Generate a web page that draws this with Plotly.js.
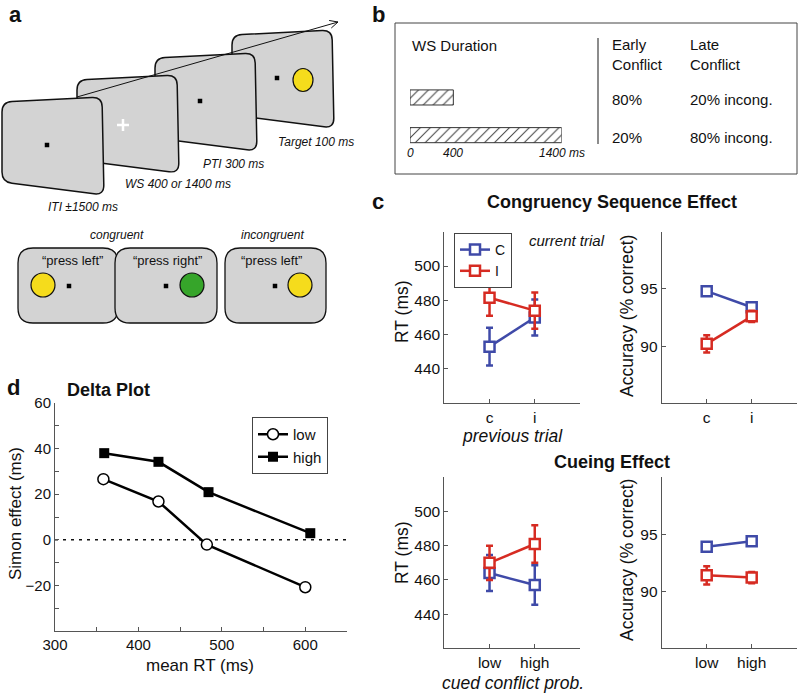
<!DOCTYPE html>
<html><head><meta charset="utf-8">
<script src="https://cdn.plot.ly/plotly-3.0.1.min.js"></script>
<style>html,body{margin:0;padding:0;background:#fff}#chart{width:798px;height:693px}</style>
</head><body><div id="chart"></div>
<script>
// ---------------- DATA ----------------
// Panel d: Delta plot
const deltaRTLow = [358, 424, 482, 600];
const deltaSimonLow = [26.6, 16.8, -2.1, -20.8];
const deltaRTHigh = [359, 424, 484, 606];
const deltaSimonHigh = [38.0, 34.2, 20.9, 2.9];
const deltaXTicks = [300, 400, 500, 600];
const deltaYTicks = [-20, 0, 20, 40, 60];

// Panel c: Congruency sequence effect (previous trial)
const cseCategories = ['c', 'i'];
const cseRT_C = [453, 470];
const cseRT_C_err = [11, 10.5];
const cseRT_I = [481.5, 474];
const cseRT_I_err = [10.5, 10.5];
const cseAcc_C = [94.8, 93.4];
const cseAcc_C_err = [0.3, 0.3];
const cseAcc_I = [90.2, 92.6];
const cseAcc_I_err = [0.75, 0.5];

// Panel c: Cueing effect (cued conflict probability)
const cueCategories = ['low', 'high'];
const cueRT_C = [464, 457];
const cueRT_C_err = [10.5, 11.5];
const cueRT_I = [470, 481];
const cueRT_I_err = [10, 11];
const cueAcc_C = [93.9, 94.4];
const cueAcc_C_err = [0.3, 0.4];
const cueAcc_I = [91.4, 91.2];
const cueAcc_I_err = [0.8, 0.5];
const rtTicks = [440, 460, 480, 500];
const accTicks = [90, 95];

// Panel b: WS durations and conflict probabilities
const wsDurations = [400, 1400];
const wsRows = [1, 2];
const wsTickVals = [0, 400, 1400];
const wsTickLabels = ['0', '400', '1400 ms'];
const earlyConflict = ['80%', '20%'];
const lateConflict = ['20% incong.', '80% incong.'];

// ---------------- HELPERS ----------------
const W = 798, H = 693;
const FONT = 'Liberation Sans, Arial, Helvetica, sans-serif';
const BLUE = '#3f4aa8', RED = '#d62b22', AX = '#555';
const px = x => x / W, py = y => 1 - y / H;
const shapes = [], annotations = [];
function ann(text, x, y, size, extra) {
  const o = {text, x: px(x), y: py(y), xref: 'paper', yref: 'paper', showarrow: false,
    xanchor: 'center', yanchor: 'middle', font: {family: FONT, size: size || 12, color: '#111'}};
  if (extra) { if (extra.font) { Object.assign(o.font, extra.font); delete extra.font; } Object.assign(o, extra); }
  annotations.push(o);
}
function pt(p) { return px(p[0]).toFixed(5) + ',' + py(p[1]).toFixed(5); }
function toward(a, b, r) { const dx = b[0]-a[0], dy = b[1]-a[1], L = Math.hypot(dx, dy); return [a[0]+dx/L*r, a[1]+dy/L*r]; }
function roundPath(pts, r) {
  let d = ''; const n = pts.length;
  for (let i = 0; i < n; i++) {
    const p = pts[i], prev = pts[(i-1+n)%n], next = pts[(i+1)%n];
    const a = toward(p, prev, r), b = toward(p, next, r);
    d += (i === 0 ? 'M' : 'L') + pt(a) + ' Q' + pt(p) + ' ' + pt(b) + ' ';
  }
  return d + 'Z';
}
function poly(pts, r, fill, lw) { shapes.push({type: 'path', xref: 'paper', yref: 'paper', path: roundPath(pts, r), fillcolor: fill, line: {color: '#111', width: lw}, layer: 'above'}); }
function sq(cx, cy, s, color) { shapes.push({type: 'rect', xref: 'paper', yref: 'paper', x0: px(cx-s/2), x1: px(cx+s/2), y0: py(cy+s/2), y1: py(cy-s/2), fillcolor: color, line: {width: 0}, layer: 'above'}); }
function circ(cx, cy, rx, ry, color) { shapes.push({type: 'circle', xref: 'paper', yref: 'paper', x0: px(cx-rx), x1: px(cx+rx), y0: py(cy+ry), y1: py(cy-ry), fillcolor: color, line: {color: '#111', width: 1.2}, layer: 'above'}); }
function seg(x0, y0, x1, y1, color, w, dash) { shapes.push({type: 'line', xref: 'paper', yref: 'paper', x0: px(x0), y0: py(y0), x1: px(x1), y1: py(y1), line: {color, width: w, dash: dash || 'solid'}, layer: 'above'}); }

// ---------------- PANEL a (diagram) ----------------
const screenTL = [[232, 35], [155, 58], [77, 80], [2, 102]];
screenTL.forEach(([x, y]) => poly([[x, y], [x+100, y-5], [x+102, y+93], [x, y+80]], 10, '#d3d3d3', 1.5));
sq(47, 145, 4.5, '#000'); sq(200, 101, 4.5, '#000'); sq(277, 78, 4.5, '#000');
seg(117, 125, 129, 125, '#fff', 2.5); seg(123, 119, 123, 131, '#fff', 2.5);
circ(303, 80, 10, 11.5, '#f5dc1c');
// time arrow
(function () {
  const t = [77, 97], h = [338, 22];
  seg(t[0], t[1], h[0], h[1], '#111', 1);
  const ang = Math.atan2(h[1]-t[1], h[0]-t[0]);
  [0.45, -0.45].forEach(d => { const a = ang + Math.PI + d; seg(h[0], h[1], h[0]+9*Math.cos(a), h[1]+9*Math.sin(a), '#111', 1); });
})();
const boxes = [[18, 118], [115, 217], [225, 326]];
boxes.forEach(([x0, x1]) => poly([[x0, 248], [x1, 248], [x1, 323], [x0, 323]], 15, '#d3d3d3', 1.3));
circ(43, 285, 12, 12, '#f5dc1c'); sq(69, 286, 4.5, '#000');
sq(166, 286, 4.5, '#000'); circ(192, 285, 12, 12, '#36a52a');
sq(275, 286, 4.5, '#000'); circ(300, 285, 12, 12, '#f5dc1c');

ann('<b>a</b>', 15, 14, 22);
ann('Target 100 ms', 316, 142, 12, {font: {style: 'italic'}});
ann('PTI 300 ms', 233, 164, 12, {font: {style: 'italic'}});
ann('WS 400 or 1400 ms', 178, 184, 12, {font: {style: 'italic'}});
ann('ITI ±1500 ms', 83, 207, 12, {font: {style: 'italic'}});
ann('congruent', 117, 235, 12, {font: {style: 'italic'}});
ann('incongruent', 272, 235, 12, {font: {style: 'italic'}});
ann('“press left”', 72, 260, 13);
ann('“press right”', 167, 260, 13);
ann('“press left”', 271, 260, 13);

// ---------------- PANEL b ----------------
ann('<b>b</b>', 378, 14, 22);
shapes.push({type: 'rect', xref: 'paper', yref: 'paper', x0: px(395), x1: px(797), y0: py(174), y1: py(23), line: {color: '#444', width: 1}, fillcolor: 'rgba(0,0,0,0)', layer: 'above'});
seg(598, 38, 598, 144, '#666', 1.5);
ann('WS Duration', 410, 45, 15, {xanchor: 'left'});
ann('Early<br>Conflict', 610, 54, 15, {xanchor: 'left', align: 'left'});
ann('Late<br>Conflict', 688, 54, 15, {xanchor: 'left', align: 'left'});
wsRows.forEach((r, i) => {
  annotations.push({text: earlyConflict[i], x: px(610), xref: 'paper', y: r, yref: 'y6', yshift: -2, showarrow: false, xanchor: 'left', font: {family: FONT, size: 15, color: '#111'}});
  annotations.push({text: lateConflict[i], x: px(688), xref: 'paper', y: r, yref: 'y6', yshift: -2, showarrow: false, xanchor: 'left', font: {family: FONT, size: 15, color: '#111'}});
});
wsTickVals.forEach((v, i) => annotations.push({text: wsTickLabels[i], x: v, xref: 'x6', y: py(153), yref: 'paper', showarrow: false, xanchor: 'center', yanchor: 'middle', font: {family: FONT, size: 12, color: '#111', style: 'italic'}}));

// ---------------- PANEL c ----------------
ann('<b>c</b>', 378, 201, 22);
ann('<b>Congruency Sequence Effect</b>', 612, 202, 18);
ann('<b>Cueing Effect</b>', 612, 462, 18);
ann('RT (ms)', 402, 312, 17.5, {textangle: -90});
ann('RT (ms)', 402, 553, 17.5, {textangle: -90});
ann('Accuracy (% correct)', 627, 316, 17.5, {textangle: -90});
ann('Accuracy (% correct)', 627, 560, 17.5, {textangle: -90});
ann('previous trial', 512, 436, 17.5, {font: {style: 'italic'}});
ann('cued conflict prob.', 513, 683, 17.5, {font: {style: 'italic'}});
ann('current trial', 527, 241, 15, {xanchor: 'left', font: {style: 'italic'}});

// ---------------- PANEL d ----------------
ann('<b>d</b>', 13, 387, 22);
ann('<b>Delta Plot</b>', 108, 390, 18);
ann('Simon effect (ms)', 15, 514, 17, {textangle: -90});
ann('mean RT (ms)', 200, 665, 17);

// ---------------- TRACES ----------------
function cTrace(x, y, err, color, xa, ya, name, legend) {
  return {type: 'scatter', mode: 'lines+markers', x, y, xaxis: xa, yaxis: ya, name,
    showlegend: !!legend, legend: legend || 'legend2', cliponaxis: false,
    line: {color, width: 2.5},
    marker: {symbol: 'square', size: 10, color: 'white', line: {color, width: 2.5}},
    error_y: {type: 'data', array: err, visible: true, color, thickness: 2.5, width: 3.5}};
}
const traces = [
  {type: 'scatter', mode: 'lines+markers', x: deltaRTLow, y: deltaSimonLow, name: 'low', xaxis: 'x', yaxis: 'y', legend: 'legend',
    line: {color: '#000', width: 2.5}, marker: {symbol: 'circle', size: 11, color: 'white', line: {color: '#000', width: 1.5}}},
  {type: 'scatter', mode: 'lines+markers', x: deltaRTHigh, y: deltaSimonHigh, name: 'high', xaxis: 'x', yaxis: 'y', legend: 'legend',
    line: {color: '#000', width: 2.5}, marker: {symbol: 'square', size: 10, color: '#000'}},
  cTrace(cseCategories, cseRT_C, cseRT_C_err, BLUE, 'x2', 'y2', 'C', 'legend2'),
  cTrace(cseCategories, cseRT_I, cseRT_I_err, RED, 'x2', 'y2', 'I', 'legend2'),
  cTrace(cseCategories, cseAcc_C, cseAcc_C_err, BLUE, 'x3', 'y3', 'C'),
  cTrace(cseCategories, cseAcc_I, cseAcc_I_err, RED, 'x3', 'y3', 'I'),
  cTrace(cueCategories, cueRT_C, cueRT_C_err, BLUE, 'x4', 'y4', 'C'),
  cTrace(cueCategories, cueRT_I, cueRT_I_err, RED, 'x4', 'y4', 'I'),
  cTrace(cueCategories, cueAcc_C, cueAcc_C_err, BLUE, 'x5', 'y5', 'C'),
  cTrace(cueCategories, cueAcc_I, cueAcc_I_err, RED, 'x5', 'y5', 'I'),
  {type: 'bar', orientation: 'h', x: wsDurations, y: wsRows, base: 0, width: 0.4, xaxis: 'x6', yaxis: 'y6', showlegend: false,
    marker: {color: 'white', line: {color: '#333', width: 1},
      pattern: {shape: '/', fgcolor: '#444', bgcolor: 'white', size: 7, solidity: 0.15}}}
];
traces.slice(4).forEach(t => t.showlegend = false);

// ---------------- AXES ----------------
const tickFont = s => ({family: FONT, size: s, color: '#111'});
function baseAxis(extra) {
  return Object.assign({showline: true, linecolor: AX, linewidth: 1, ticks: 'inside', ticklen: 4, tickcolor: AX,
    showgrid: false, zeroline: false, fixedrange: true}, extra);
}
const cX1 = [px(444.3), px(580)], cX2 = [px(661.7), px(796.7)];
const cYtop = [py(403.3), py(231.7)], cYbot = [py(648.3), py(477.3)];
const layout = {
  width: W, height: H, margin: {l: 0, r: 0, t: 0, b: 0},
  paper_bgcolor: 'white', plot_bgcolor: 'rgba(0,0,0,0)',
  font: {family: FONT, color: '#111'},
  hovermode: false, barmode: 'overlay',
  xaxis: baseAxis({domain: [px(55), px(347)], anchor: 'y', range: [300, 650], tickmode: 'array', tickvals: deltaXTicks,
    tickfont: tickFont(15), minor: {dtick: 50, tick0: 0, ticks: 'inside', ticklen: 4, tickcolor: AX}}),
  yaxis: baseAxis({domain: [py(631), py(403)], anchor: 'x', range: [-40, 60], tickmode: 'array', tickvals: deltaYTicks,
    ticktext: deltaYTicks.map(v => v < 0 ? '\u2212' + Math.abs(v) : String(v)),
    tickfont: tickFont(15), minor: {dtick: 10, tick0: 0, ticks: 'inside', ticklen: 4, tickcolor: AX}}),
  xaxis2: baseAxis({domain: cX1, anchor: 'y2', type: 'category', range: [-1, 2], tickfont: tickFont(15.5)}),
  yaxis2: baseAxis({domain: cYtop, anchor: 'x2', range: [420, 520], tickmode: 'array', tickvals: rtTicks, tickfont: tickFont(15.5)}),
  xaxis3: baseAxis({domain: cX2, anchor: 'y3', type: 'category', range: [-1, 2], tickfont: tickFont(15.5)}),
  yaxis3: baseAxis({domain: cYtop, anchor: 'x3', range: [85, 100], tickmode: 'array', tickvals: accTicks, tickfont: tickFont(15.5)}),
  xaxis4: baseAxis({domain: cX1, anchor: 'y4', type: 'category', range: [-1, 2], tickfont: tickFont(15.5)}),
  yaxis4: baseAxis({domain: cYbot, anchor: 'x4', range: [420, 520], tickmode: 'array', tickvals: rtTicks, tickfont: tickFont(15.5)}),
  xaxis5: baseAxis({domain: cX2, anchor: 'y5', type: 'category', range: [-1, 2], tickfont: tickFont(15.5)}),
  yaxis5: baseAxis({domain: cYbot, anchor: 'x5', range: [85, 100], tickmode: 'array', tickvals: accTicks, tickfont: tickFont(15.5)}),
  xaxis6: {domain: [px(410), px(561.7)], anchor: 'y6', range: [0, 1400], visible: false, fixedrange: true},
  yaxis6: {domain: [py(154), py(78.6)], anchor: 'x6', range: [2.5, 0.5], visible: false, fixedrange: true},
  legend: {x: px(252), y: py(417), xanchor: 'left', yanchor: 'top', bgcolor: 'white', bordercolor: '#444', borderwidth: 1,
    font: {family: FONT, size: 15, color: '#111'}, tracegroupgap: 0, itemwidth: 30},
  legend2: {x: px(454), y: py(233), xanchor: 'left', yanchor: 'top', bgcolor: 'white', bordercolor: '#444', borderwidth: 1,
    font: {family: FONT, size: 14, color: '#111'}, tracegroupgap: 0, itemwidth: 30},
  shapes: [
    {type: 'line', xref: 'x domain', yref: 'y', x0: 0, x1: 1, y0: 0, y1: 0, line: {color: '#111', width: 1.5, dash: '3px,5px'}, layer: 'below'}
  ].concat(shapes),
  annotations
};
Plotly.newPlot('chart', traces, layout, {staticPlot: true, displayModeBar: false});
</script></body></html>
